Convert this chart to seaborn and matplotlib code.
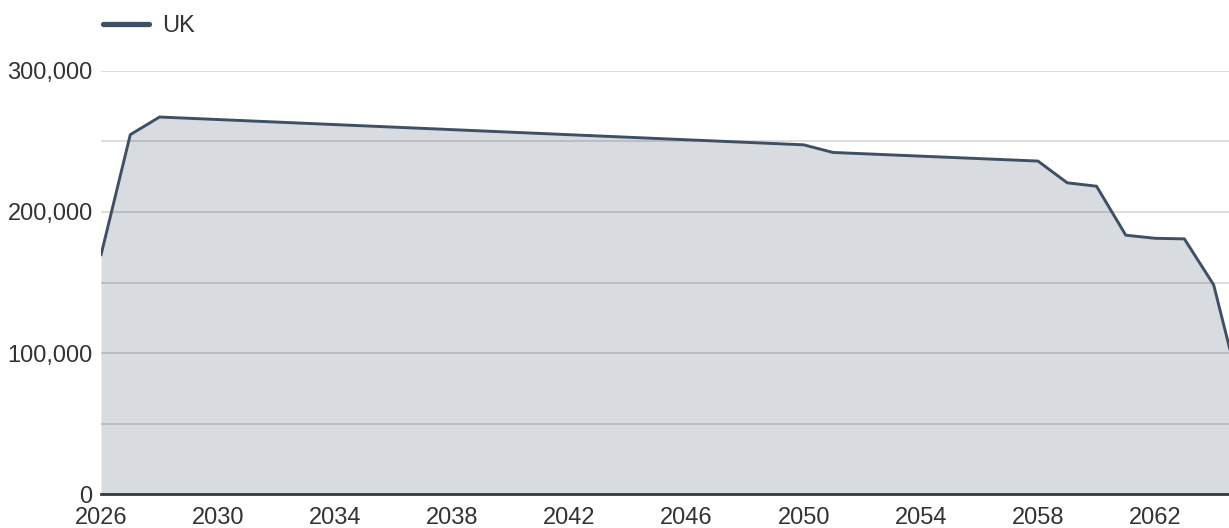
import pandas as pd
import matplotlib
matplotlib.use("Agg")
import matplotlib.pyplot as plt
from matplotlib.ticker import FixedLocator, MultipleLocator, FuncFormatter
import seaborn as sns

years = [2026, 2027, 2028, 2050, 2051, 2058, 2059, 2060, 2061, 2062, 2063, 2064, 2065]
uk = [169500, 254700, 267200, 247500, 242100, 236000, 220600, 218200,
      183500, 181300, 180900, 148400, 66000]
year_ticks = [2026, 2030, 2034, 2038, 2042, 2046, 2050, 2054, 2058, 2062]

df = pd.DataFrame({"Year": years, "UK": uk})

sns.set_style("white")
plt.rcParams["font.family"] = ["Liberation Sans", "DejaVu Sans"]

line_col = "#3f4f64"
fill_col = "#d8dbe0"
text_col = "#333333"

fig = plt.figure(figsize=(12.29, 5.28), dpi=100)
ax = fig.add_axes([101 / 1229, 1 - 494.3 / 528, 1 - 101 / 1229, (494.3 - 70.7) / 528])

ax.fill_between(df["Year"], df["UK"], 0, color=fill_col, linewidth=0, zorder=1)
sns.lineplot(data=df, x="Year", y="UK", ax=ax, color=line_col, linewidth=2.1,
             label="UK", zorder=3, legend=False)

ax.set_xlim(2026, 2026 + 1128 / 29.28)
ax.set_ylim(0, 300000)
ax.xaxis.set_major_locator(FixedLocator(year_ticks))
ax.yaxis.set_major_locator(MultipleLocator(100000))
ax.yaxis.set_minor_locator(MultipleLocator(50000))
ax.yaxis.set_major_formatter(FuncFormatter(lambda v, p: f"{int(v):,}"))

ax.set_axisbelow("line")
ax.grid(axis="y", which="both", color="black", alpha=0.15, linewidth=1.3)
ax.grid(axis="x", visible=False)

for s in ["top", "right", "left"]:
    ax.spines[s].set_visible(False)
ax.spines["bottom"].set_color("#33393f")
ax.spines["bottom"].set_linewidth(2)
ax.spines["bottom"].set_zorder(4)

ax.tick_params(axis="both", which="both", length=0, labelsize=17, labelcolor=text_col)
ax.tick_params(axis="y", pad=6)
ax.tick_params(axis="x", pad=9)
ax.set_xlabel("")
ax.set_ylabel("")

leg = fig.legend(handles=ax.get_lines()[:1], labels=["UK"], loc="center left",
                 bbox_to_anchor=(82 / 1229, 1 - 26 / 528), frameon=False,
                 fontsize=17, handlelength=1.95, handletextpad=0.55,
                 labelcolor=text_col)
for h in leg.get_lines():
    h.set_linewidth(3.8)
    h.set_solid_capstyle("round")

fig.savefig("out.png", dpi=100)
